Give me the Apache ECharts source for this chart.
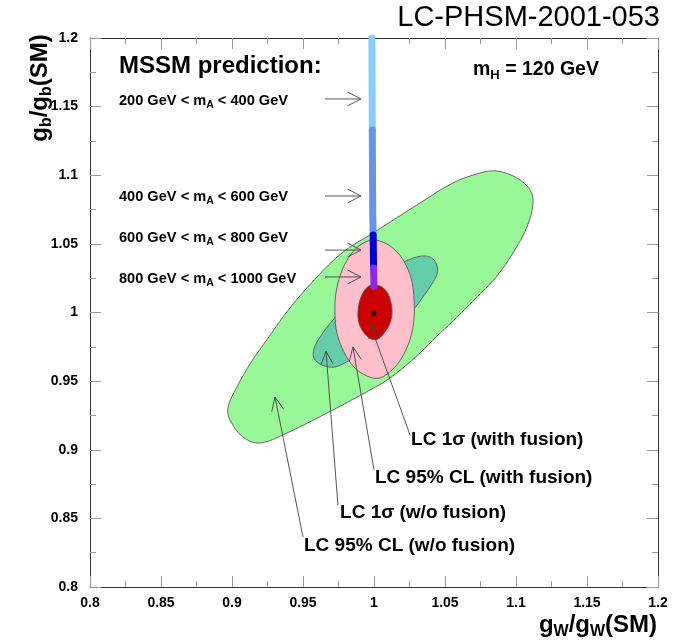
<!DOCTYPE html>
<html>
<head>
<meta charset="utf-8">
<script src="https://cdn.jsdelivr.net/npm/echarts@6/dist/echarts.min.js"></script>
<style>
  html, body { margin: 0; padding: 0; background: #fff; }
  #chart { width: 680px; height: 641px; }
</style>
</head>
<body>
<div id="chart"></div>
<script>
// Axis range shared by g_W/g_W(SM) and g_b/g_b(SM)
const axisMin = 0.8;
const axisMax = 1.2;
const tickStep = 0.05;

// LC 95% CL contour without WW fusion  [g_W ratio, g_b ratio]
const cl95NoFusion = [
  [1.0866, 1.1031], [1.1007, 1.0980], [1.1099, 1.0893], [1.1120, 1.0798],
  [1.1077, 1.0623], [1.0979, 1.0434], [1.0866, 1.0266], [1.0761, 1.0149],
  [1.0648, 1.0033], [1.0535, 0.9916], [1.0444, 0.9829], [1.0324, 0.9705],
  [1.0204, 0.9596], [1.0092, 0.9508], [0.9972, 0.9435],
  [0.9711, 0.9290], [0.9387, 0.9122], [0.9197, 0.9049], [0.9077, 0.9093],
  [0.8986, 0.9217], [0.8972, 0.9311], [0.9035, 0.9457], [0.9127, 0.9625],
  [0.9254, 0.9814], [0.9408, 1.0033], [0.9585, 1.0244], [0.9782, 1.0441],
  [0.9993, 1.0579], [1.0324, 1.0798], [1.0556, 1.0944], [1.0746, 1.1016]
];

// LC 1 sigma contour without WW fusion
const sigma1NoFusion = [
  [1.0183, 1.0353], [1.0275, 1.0397], [1.0359, 1.0412], [1.0415, 1.0390],
  [1.0444, 1.0339], [1.0444, 1.0281], [1.0408, 1.0208], [1.0345, 1.0113],
  [1.0275, 1.0018], [1.0183, 0.9923], [1.0077, 0.9821], [0.9958, 0.9727],
  [0.9831, 0.9654], [0.9725, 0.9603], [0.9634, 0.9617], [0.9577, 0.9668],
  [0.9577, 0.9734], [0.9620, 0.9821], [0.9711, 0.9945], [0.9831, 1.0069],
  [0.9958, 1.0179], [1.0077, 1.0281]
];

// LC 95% CL contour with WW fusion
const cl95Fusion = [
  [0.9986, 1.0528], [1.0077, 1.0506], [1.0162, 1.0441], [1.0225, 1.0346],
  [1.0268, 1.0222], [1.0282, 1.0091], [1.0282, 0.9960], [1.0261, 0.9829],
  [1.0211, 0.9698], [1.0141, 0.9596], [1.0042, 0.9523], [0.9951, 0.9537],
  [0.9859, 0.9603], [0.9789, 0.9712], [0.9739, 0.9851], [0.9725, 0.9996],
  [0.9732, 1.0142], [0.9768, 1.0288], [0.9824, 1.0404], [0.9894, 1.0485]
];

// LC 1 sigma contour with WW fusion
const sigma1Fusion = [
  [1.0000, 1.0200], [1.0056, 1.0186], [1.0099, 1.0135], [1.0120, 1.0069],
  [1.0127, 0.9996], [1.0113, 0.9923], [1.0077, 0.9858], [1.0028, 0.9807],
  [0.9979, 0.9807], [0.9930, 0.9851], [0.9894, 0.9923], [0.9887, 1.0004],
  [0.9901, 1.0091], [0.9930, 1.0157], [0.9965, 1.0193]
];

// MSSM prediction band, one stretch per m_A range
const mssmBand200to400 = [[0.9985, 1.2000], [0.9988, 1.1330]];
const mssmBand400to600a = [[0.9988, 1.1330], [0.9991, 1.0705]];
const mssmBand400to600b = [[0.9992, 1.0685], [0.9994, 1.0565]];
const mssmBand600to800 = [[0.9994, 1.0565], [0.9997, 1.0324]];
const mssmBand800to1000 = [[0.9997, 1.0324], [1.0000, 1.0190]];

// Standard Model point
const smPoint = [[1.0, 1.0]];

// m_A range annotations: label text, label height, arrow height
const massLabels = [
  ['200 GeV < m', ' < 400 GeV'],
  ['400 GeV < m', ' < 600 GeV'],
  ['600 GeV < m', ' < 800 GeV'],
  ['800 GeV < m', ' < 1000 GeV']
];
const massLabelX = 0.8204;
const massLabelY = [1.1541, 1.0841, 1.0543, 1.0244];
const massArrowX = [0.9655, 0.9908];
const massArrowY = [1.1556, 1.0849, 1.0455, 1.0259];

// contour annotations: label, label anchor, arrow tail, arrow tip
const contourLabels = [
  'LC 1σ (with fusion)',
  'LC 95% CL (with fusion)',
  'LC 1σ (w/o fusion)',
  'LC 95% CL (w/o fusion)'
];
const contourLabelPos = [[1.0261, 0.9071], [1.0007, 0.8794], [0.9761, 0.8539], [0.9507, 0.8299]];
const contourArrowTail = [[1.0254, 0.9107], [1.0000, 0.8852], [0.9746, 0.8597], [0.9500, 0.8364]];
const contourArrowTip = [[0.9972, 0.9916], [0.9852, 0.9749], [0.9662, 0.9719], [0.9303, 0.9384]];

const FONT = '"Liberation Sans", Arial, Helvetica, sans-serif';
const INK = '#000';
const EDGE = '#5a5a5a';

function contourSeries(points, fill, z) {
  return {
    type: 'custom',
    coordinateSystem: 'cartesian2d',
    silent: true,
    z: z,
    data: [points[0]],
    renderItem: function (params, api) {
      return {
        type: 'polygon',
        shape: { points: points.map(function (p) { return api.coord(p); }), smooth: 0.35 },
        style: { fill: fill, stroke: EDGE, lineWidth: 0.9 }
      };
    }
  };
}

function bandSeries(points, color) {
  return {
    type: 'line',
    data: points,
    symbol: 'none',
    silent: true,
    z: 10,
    lineStyle: { color: color, width: 7, cap: 'round' }
  };
}

function arrowElements(a, b, len, spread) {
  const ang = Math.atan2(b[1] - a[1], b[0] - a[0]);
  const h1 = [b[0] - len * Math.cos(ang - spread), b[1] - len * Math.sin(ang - spread)];
  const h2 = [b[0] - len * Math.cos(ang + spread), b[1] - len * Math.sin(ang + spread)];
  const style = { stroke: '#444', lineWidth: 0.9, fill: 'none' };
  return [
    { type: 'polyline', shape: { points: [a, b] }, style: style },
    { type: 'polyline', shape: { points: [h1, b, h2] }, style: style }
  ];
}

function axisCommon(extra) {
  return Object.assign({
    type: 'value',
    min: axisMin,
    max: axisMax,
    interval: tickStep,
    axisLine: { show: true, onZero: false, lineStyle: { color: '#333', width: 1 } },
    axisTick: { show: true, inside: true, length: 11, lineStyle: { color: '#999', width: 1 } },
    minorTick: { show: true, splitNumber: 2, length: 6, lineStyle: { color: '#999', width: 1 } },
    splitLine: { show: false },
    axisLabel: { show: false }
  }, extra);
}

const tickLabel = {
  show: true,
  color: INK,
  fontFamily: FONT,
  fontWeight: 'bold',
  fontSize: 14,
  showMinLabel: true,
  showMaxLabel: true,
  formatter: function (v) { return String(parseFloat(v.toFixed(3))); }
};

const chart = echarts.init(document.getElementById('chart'), null, { renderer: 'canvas' });

chart.setOption({
  animation: false,
  backgroundColor: '#fff',
  grid: { left: 90, right: 22, top: 38, bottom: 54, containLabel: false },
  xAxis: [
    axisCommon({ position: 'bottom', axisLabel: Object.assign({}, tickLabel, { margin: 9 }) }),
    axisCommon({ position: 'top' })
  ],
  yAxis: [
    axisCommon({ position: 'left', axisLabel: Object.assign({}, tickLabel, { margin: 12 }) }),
    axisCommon({ position: 'right' })
  ],
  graphic: [
    {
      type: 'text', right: 20, top: 3,
      style: { text: 'LC-PHSM-2001-053', font: '29px ' + FONT, fill: INK }
    },
    {
      type: 'text', x: 119, y: 66,
      style: { text: 'MSSM prediction:', font: 'bold 24px ' + FONT, fill: INK, textVerticalAlign: 'middle' }
    },
    {
      type: 'text', x: 473, y: 70,
      style: {
        text: '{m|m}{s|H}{m| = 120 GeV}', fill: INK, textVerticalAlign: 'middle',
        rich: {
          m: { font: 'bold 19.5px ' + FONT, fill: INK },
          s: { font: 'bold 13px ' + FONT, fill: INK, padding: [11, 0, 0, 0] }
        }
      }
    },
    {
      type: 'text', x: 598, y: 625,
      style: {
        text: '{m|g}{s|W}{m|/g}{s|W}{m|(SM)}', fill: INK, textAlign: 'center', textVerticalAlign: 'middle',
        rich: {
          m: { font: 'bold 24px ' + FONT, fill: INK },
          s: { font: 'bold 16px ' + FONT, fill: INK, padding: [13, 0, 0, 0] }
        }
      }
    },
    {
      type: 'text', x: 40, y: 88, rotation: Math.PI / 2,
      style: {
        text: '{m|g}{s|b}{m|/g}{s|b}{m|(SM)}', fill: INK, textAlign: 'center', textVerticalAlign: 'middle',
        rich: {
          m: { font: 'bold 24px ' + FONT, fill: INK },
          s: { font: 'bold 16px ' + FONT, fill: INK, padding: [13, 0, 0, 0] }
        }
      }
    }
  ],
  series: [
    contourSeries(cl95NoFusion, '#98f898', 2),
    contourSeries(sigma1NoFusion, '#66cdaa', 3),
    contourSeries(cl95Fusion, '#ffc0cb', 4),
    contourSeries(sigma1Fusion, '#cc0000', 5),
    bandSeries(mssmBand200to400, '#87cefa'),
    bandSeries(mssmBand400to600a, '#6495ed'),
    bandSeries(mssmBand400to600b, '#6495ed'),
    bandSeries(mssmBand600to800, '#0000cd'),
    bandSeries(mssmBand800to1000, '#8a2be2'),
    {
      type: 'scatter',
      data: smPoint,
      z: 12,
      silent: true,
      symbol: 'path://M50,0 L61,35 L98,35 L68,57 L79,91 L50,70 L21,91 L32,57 L2,35 L39,35 Z',
      symbolSize: 8,
      itemStyle: { color: '#000' }
    },
    {
      // m_A range labels with arrows pointing at the band
      type: 'custom',
      coordinateSystem: 'cartesian2d',
      silent: true,
      z: 20,
      clip: false,
      data: massArrowY.map(function (y) { return [massArrowX[1], y]; }),
      renderItem: function (params, api) {
        const i = params.dataIndex;
        const a = api.coord([massArrowX[0], massArrowY[i]]);
        const b = api.coord([massArrowX[1], massArrowY[i]]);
        const t = api.coord([massLabelX, massLabelY[i]]);
        const children = arrowElements(a, b, 15, 0.48);
        children.push({
          type: 'text', x: t[0], y: t[1],
          style: {
            text: '{m|' + massLabels[i][0] + '}{s|A}{m|' + massLabels[i][1] + '}',
            fill: INK, textVerticalAlign: 'middle',
            rich: {
              m: { font: 'bold 14.6px ' + FONT, fill: INK },
              s: { font: 'bold 10.5px ' + FONT, fill: INK, padding: [9, 0, 0, 0] }
            }
          }
        });
        return { type: 'group', children: children };
      }
    },
    {
      // contour labels with arrows
      type: 'custom',
      coordinateSystem: 'cartesian2d',
      silent: true,
      z: 20,
      clip: false,
      data: contourArrowTip,
      renderItem: function (params, api) {
        const i = params.dataIndex;
        const a = api.coord(contourArrowTail[i]);
        const b = api.coord(contourArrowTip[i]);
        const t = api.coord(contourLabelPos[i]);
        const children = arrowElements(a, b, 15, 0.42);
        children.push({
          type: 'text', x: t[0], y: t[1],
          style: { text: contourLabels[i], font: 'bold 19px ' + FONT, fill: INK, textVerticalAlign: 'middle' }
        });
        return { type: 'group', children: children };
      }
    }
  ]
});
</script>
</body>
</html>
